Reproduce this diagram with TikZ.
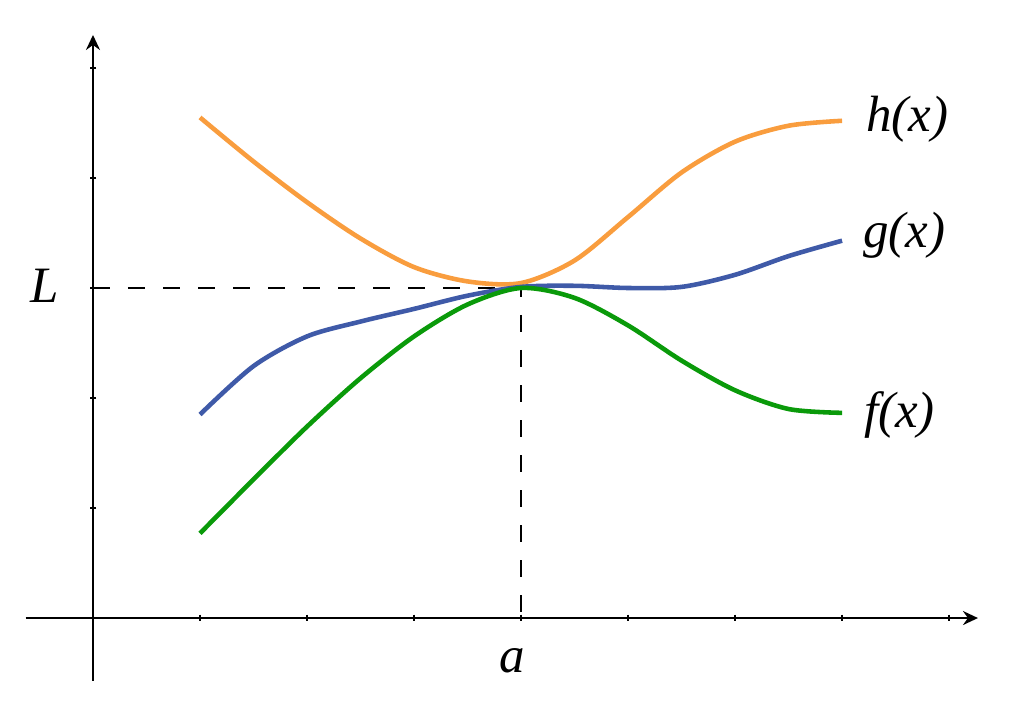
\documentclass[tikz,border=0pt]{standalone}
\usepackage{fontspec}
\setmainfont{Liberation Serif}
\usetikzlibrary{arrows.meta}
\definecolor{hcol}{HTML}{F99D3E}
\definecolor{gcol}{HTML}{3F5AA8}
\definecolor{fcol}{HTML}{0A9A0A}

\begin{document}
\begin{tikzpicture}[x=1.07cm, y=1.1cm,
  axis/.style={line width=0.7pt, -{Stealth[length=1.5mm, width=1.4mm, inset=0.5mm]}},
  guide/.style={line width=0.8pt, dash pattern=on 1.7mm off 1.8mm},
  curve/.style={line width=1.3pt},
  lab/.style={font=\fontsize{14.5}{17}\selectfont\itshape, inner sep=0pt}]
  \useasboundingbox (-0.869,-0.809) rectangle (8.70,5.618);
  % axes
  \draw[axis] (-0.63,0) -- (8.27,0);
  \draw[axis] (0,-0.57) -- (0,5.3);
  \foreach \i in {1,...,8}
    \draw[line width=0.6pt] (\i,0.03) -- (\i,-0.03);
  \foreach \j in {1,...,5}
    \draw[line width=0.6pt] (0.03,\j) -- (-0.03,\j);
  % limit point
  \coordinate (yL) at (0,3);
  \coordinate (P) at (4,3);
  \coordinate (xa) at (4,0);
  \draw[guide] (yL) -- (P) -- (xa);
  \node[lab] (Llab) at (-0.45,3.02) {L};
  \node[lab] (alab) at (3.92,-0.39) {a};
  % the three functions
  \draw[curve, hcol] plot[smooth] coordinates {(1,4.55) (1.5,4.15) (2,3.78) (2.5,3.45) (3,3.19) (3.5,3.06) (4,3.045) (4.5,3.25) (5,3.645) (5.5,4.05) (6,4.33) (6.5,4.475) (7,4.52)};
  \draw[curve, gcol] plot[smooth] coordinates {(1,1.85) (1.5,2.29) (2,2.56) (2.5,2.695) (3,2.81) (3.5,2.93) (4,3.01) (4.5,3.02) (5,3.0) (5.5,3.01) (6,3.12) (6.5,3.29) (7,3.43)};
  \draw[curve, fcol] plot[smooth] coordinates {(1,0.77) (1.5,1.26) (2,1.74) (2.5,2.18) (3,2.56) (3.5,2.85) (4,3.0) (4.5,2.91) (5,2.66) (5.5,2.34) (6,2.07) (6.5,1.9) (7,1.865)};
  \node[lab, anchor=west] (hlab) at (7.22,4.53) {h(x)};
  \node[lab, anchor=west] (glab) at (7.19,3.48) {g(x)};
  \node[lab, anchor=west] (flab) at (7.2,1.85) {f(x)};
\end{tikzpicture}
\end{document}
